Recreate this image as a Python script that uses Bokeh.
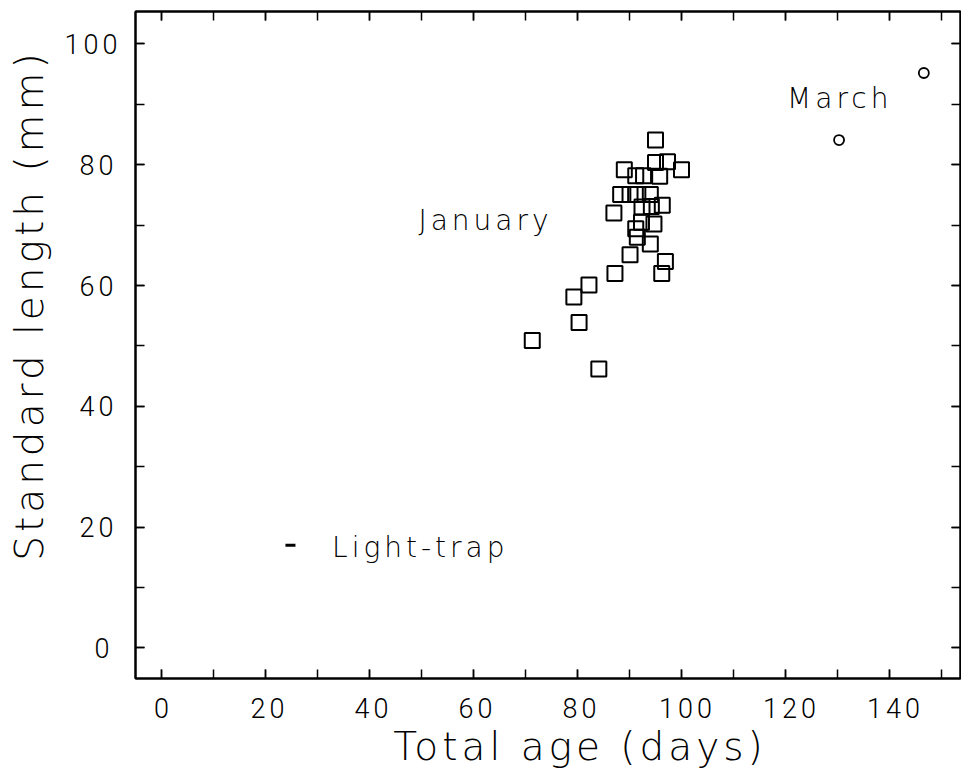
from bokeh.plotting import figure
from bokeh.models import LinearAxis, SingleIntervalTicker, Range1d
from bokeh.embed import file_html
from bokeh.resources import INLINE
from bokeh.core.properties import value

# January samples (squares): total age (days), standard length (mm)
jan_age = [71.3, 84.1, 80.3, 79.3, 82.2, 87.2, 90.1, 96.2, 96.9, 87.0,
           88.3, 90.1, 91.6, 94.0, 89.0, 91.2, 92.7, 95.8, 95.0, 95.0,
           97.3, 100.0, 92.4, 94.2, 96.3, 92.3, 94.7, 91.2, 91.5, 94.0]
jan_len = [50.9, 46.2, 53.9, 58.1, 60.1, 62.0, 65.1, 62.0, 64.0, 72.0,
           75.1, 75.1, 75.1, 75.1, 79.2, 78.2, 78.2, 78.1, 84.1, 80.4,
           80.5, 79.2, 73.0, 73.1, 73.3, 70.5, 70.2, 69.4, 68.0, 66.9]
# March samples (circles)
mar_age = [146.6, 130.3]
mar_len = [95.2, 84.1]
# Light-trap sample (dash)
trap_age = [24.8]
trap_len = [17.0]
# Annotations
ann_text = ["January", "March", "Light-trap"]
ann_age = [49.4, 120.3, 32.8]
ann_len = [70.8, 90.9, 16.7]

X_LABEL = "Total age (days)"
Y_LABEL = "Standard length (mm)"

TICK_FONT = "Roboto Light"
TEXT_FONT = "DejaVu Sans Light"
INK = "#000000"

p = figure(width=961, height=778,
           x_range=Range1d(-5.0, 153.65), y_range=Range1d(-5.05, 105.38),
           output_backend="svg", toolbar_location=None,
           min_border_left=135, min_border_right=1,
           min_border_top=11, min_border_bottom=100)
p.xgrid.visible = False
p.ygrid.visible = False
p.outline_line_color = INK
p.outline_line_width = 2
p.background_fill_color = "white"
p.border_fill_color = "white"
p.stylesheets = [":host { letter-spacing: 4px; }"]


def style_axis(ax, labels=True):
    ax.ticker = SingleIntervalTicker(interval=20, num_minor_ticks=2)
    ax.axis_line_color = INK
    ax.axis_line_width = 2
    ax.major_tick_in = 9
    ax.major_tick_out = 0
    ax.minor_tick_in = 9
    ax.minor_tick_out = 0
    ax.major_tick_line_color = INK
    ax.minor_tick_line_color = INK
    ax.major_tick_line_width = 1.5
    ax.minor_tick_line_width = 1.5
    if labels:
        ax.major_label_text_font = TICK_FONT
        ax.major_label_text_font_size = "27px"
        ax.major_label_text_color = INK
        ax.axis_label_text_font = TEXT_FONT
        ax.axis_label_text_font_size = "39px"
        ax.axis_label_text_font_style = "normal"
        ax.axis_label_text_color = INK
    else:
        ax.axis_label = None
        ax.major_label_text_color = None
        ax.major_label_standoff = 0


xa = p.xaxis[0]
ya = p.yaxis[0]
style_axis(xa)
style_axis(ya)
xa.axis_label = X_LABEL
ya.axis_label = Y_LABEL
xa.major_label_standoff = 19
xa.axis_label_standoff = 3
ya.major_label_standoff = 26
ya.axis_label_standoff = 10

top = LinearAxis()
right = LinearAxis()
style_axis(top, labels=False)
style_axis(right, labels=False)
p.add_layout(top, "above")
p.add_layout(right, "right")

p.scatter(jan_age, jan_len, marker="square", size=15, fill_color=None,
          line_color=INK, line_width=2)
p.scatter(mar_age, mar_len, marker="circle", size=10, fill_color=None,
          line_color=INK, line_width=1.8)
p.scatter(trap_age, trap_len, marker="dash", size=10, line_color=INK,
          line_width=3)

p.text(x=ann_age, y=ann_len, text=ann_text, text_font=value(TEXT_FONT),
       text_font_size="28px", text_color=INK, text_align="left",
       text_baseline="alphabetic")

open("out.html", "w").write(file_html(p, INLINE))
